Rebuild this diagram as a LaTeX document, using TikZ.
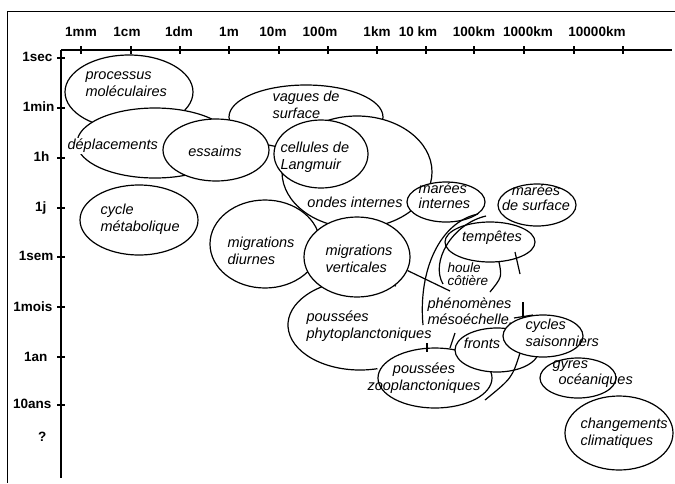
\documentclass[tikz,border=0pt]{standalone}
\usepackage{fontspec}
\setmainfont{Liberation Sans}
\usetikzlibrary{shapes.geometric}

\begin{document}
\begin{tikzpicture}[
            x = 1pt, y = -1pt,
            line width = 1.2pt,
            zone/.style 2 args = {ellipse, draw, fill = white, inner sep = 0pt, minimum width = #1, minimum height = #2},
            tag/.style = {inner sep = 0pt, align = left, font = \itshape\fontsize{14.5}{16.5}\selectfont},
            axislabel/.style = {inner sep = 0pt, font = \bfseries\fontsize{13.5}{16}\selectfont},
            axis/.style = {line width = 1.7pt}
        ]
        \useasboundingbox (0,0) rectangle (675,483);
        \draw[line width = 0.8pt] (675,11) -- (7,11) -- (7,483);

        \draw[axis] (61,50) -- (672,50);
        \draw[axis] (61,50) -- (61,478);
        \draw[axis] (81,46) -- (81,54) (131,46) -- (131,54) (180,46) -- (180,54) (229,46) -- (229,54)
            (279,46) -- (279,54) (328,46) -- (328,54) (377,46) -- (377,54) (426,46) -- (426,54)
            (474,46) -- (474,54) (524,46) -- (524,54) (574,46) -- (574,54) (623,46) -- (623,54);
        \draw[axis] (57,58) -- (65,58) (57,108) -- (65,108) (57,158) -- (65,158) (57,208) -- (65,208)
            (57,257) -- (65,257) (57,307) -- (65,307) (57,357) -- (65,357) (57,405) -- (65,405);

        \node[axislabel] (mm) at (81,32) {1mm};
        \node[axislabel] (cm) at (127,32) {1cm};
        \node[axislabel] (dm) at (179,32) {1dm};
        \node[axislabel] (m1) at (229,32) {1m};
        \node[axislabel] (m10) at (273,32) {10m};
        \node[axislabel] (m100) at (320,32) {100m};
        \node[axislabel] (km1) at (377,32) {1km};
        \node[axislabel] (km10) at (418,32) {10 km};
        \node[axislabel] (km100) at (474,32) {100km};
        \node[axislabel] (km1000) at (528,32) {1000km};
        \node[axislabel] (km10000) at (597,32) {10000km};

        \node[axislabel, anchor = east] (sec) at (53,57) {1sec};
        \node[axislabel, anchor = east] (min) at (55,107) {1min};
        \node[axislabel, anchor = east] (hour) at (50,157) {1h};
        \node[axislabel, anchor = east] (day) at (47,208) {1j};
        \node[axislabel, anchor = east] (week) at (54,256) {1sem};
        \node[axislabel, anchor = east] (month) at (53,307) {1mois};
        \node[axislabel, anchor = east] (year) at (48,357) {1an};
        \node[axislabel, anchor = east] (decade) at (52,404) {10ans};
        \node[axislabel, anchor = east] (unknown) at (47,437) {?};

        \node[zone = {128pt}{74pt}] (proc) at (129,92) {};
        \node[zone = {156pt}{70pt}] (depl) at (155,143) {};
        \node[zone = {118pt}{70pt}] (metab) at (139,220) {};
        \node[zone = {110pt}{88pt}] (diurnes) at (265,244) {};
        \node[zone = {144pt}{90pt}, draw = none, fill = none] (phyto) at (360,325) {};
        \draw (phyto.center) ++(76:72 and 45) arc[start angle = 76, end angle = 300, x radius = 72, y radius = 45];
        \node[zone = {154pt}{64pt}] (vagues) at (306,117) {};
        \node[zone = {150pt}{112pt}] (ondes) at (357,172) {};
        \node[zone = {94pt}{68pt}] (langmuir) at (321,154) {};
        \node[zone = {106pt}{62pt}] (essaims) at (216,150) {};
        \node[zone = {106pt}{80pt}] (verticales) at (357,257) {};
        \node[zone = {114pt}{60pt}] (zoo) at (435,378) {};
        \node[zone = {84pt}{44pt}] (fronts) at (497,350) {};
        \node[zone = {80pt}{42pt}] (cycles) at (543,336) {};
        \node[zone = {76pt}{40pt}] (gyres) at (578,378) {};
        \node[zone = {108pt}{74pt}] (climat) at (619,433) {};
        \node[zone = {78pt}{40pt}] (marint) at (446,202) {};
        \node[zone = {78pt}{42pt}] (marsurf) at (537,205) {};
        \node[zone = {90pt}{40pt}] (tempetes) at (490,242) {};

        \draw (478,214) .. controls (440,222) and (418,270) .. (423,325);
        \draw (486,216) .. controls (452,224) and (430,262) .. (443,284);
        \draw (499,262) .. controls (502,277) .. (490,292);
        \draw (515,252) -- (520,274);
        \coordinate (meso) at (450,291);
        \draw (verticales.-15) -- (meso);
        \draw (523,302) -- (523,318);
        \draw (514,318) -- (533,315);
        \draw (455,333) -- (450,348);
        \draw (427,343) -- (427,352);
        \draw (520,353) .. controls (512,378) .. (485,400);

        \node[tag, anchor = west] (proc-t) at (85,84) {processus\\moléculaires};
        \node[tag, anchor = west, fill = white, inner sep = 1pt] (depl-t) at (66,146) {déplacements};
        \node[tag] (essaims-t) at (215,151) {essaims};
        \node[tag, anchor = west] (metab-t) at (100,219) {cycle\\métabolique};
        \node[tag, anchor = west] (vagues-t) at (272,105) {vagues de\\surface};
        \node[tag, anchor = west] (langmuir-t) at (280,157) {cellules de\\Langmuir};
        \node[tag] (ondes-t) at (355,202) {ondes internes};
        \node[tag, anchor = west] (diurnes-t) at (227,251) {migrations\\diurnes};
        \node[tag, anchor = west] (verticales-t) at (325,259) {migrations\\verticales};
        \node[tag, anchor = west] (phyto-t) at (306,326) {poussées\\phytoplanctoniques};
        \node[tag, anchor = west, font = \itshape\fontsize{14.5}{15}\selectfont] (marint-t) at (418,196) {marées\\internes};
        \node[tag, align = center, font = \itshape\fontsize{14.5}{15}\selectfont] (marsurf-t) at (536,198) {marées\\de surface};
        \node[tag] (tempetes-t) at (492,238) {tempêtes};
        \node[tag, anchor = west, font = \itshape\fontsize{13.5}{13}\selectfont] (houle-t) at (447,274) {houle\\côtière};
        \node[tag, anchor = west] (meso-t) at (427,311) {phénomènes\\mésoéchelle.};
        \node[tag] (fronts-t) at (482,343) {fronts};
        \node[tag, anchor = west] (cycles-t) at (525,333) {cycles\\saisonniers};
        \node[tag, align = center] (zoo-t) at (424,378) {poussées\\zooplanctoniques};
        \node[tag, anchor = west] (gyres-t) at (552,374) {gyres\\\hspace{6pt}océaniques};
        \node[tag, anchor = west] (climat-t) at (580,433) {changements\\climatiques};
    \end{tikzpicture}
\end{document}
